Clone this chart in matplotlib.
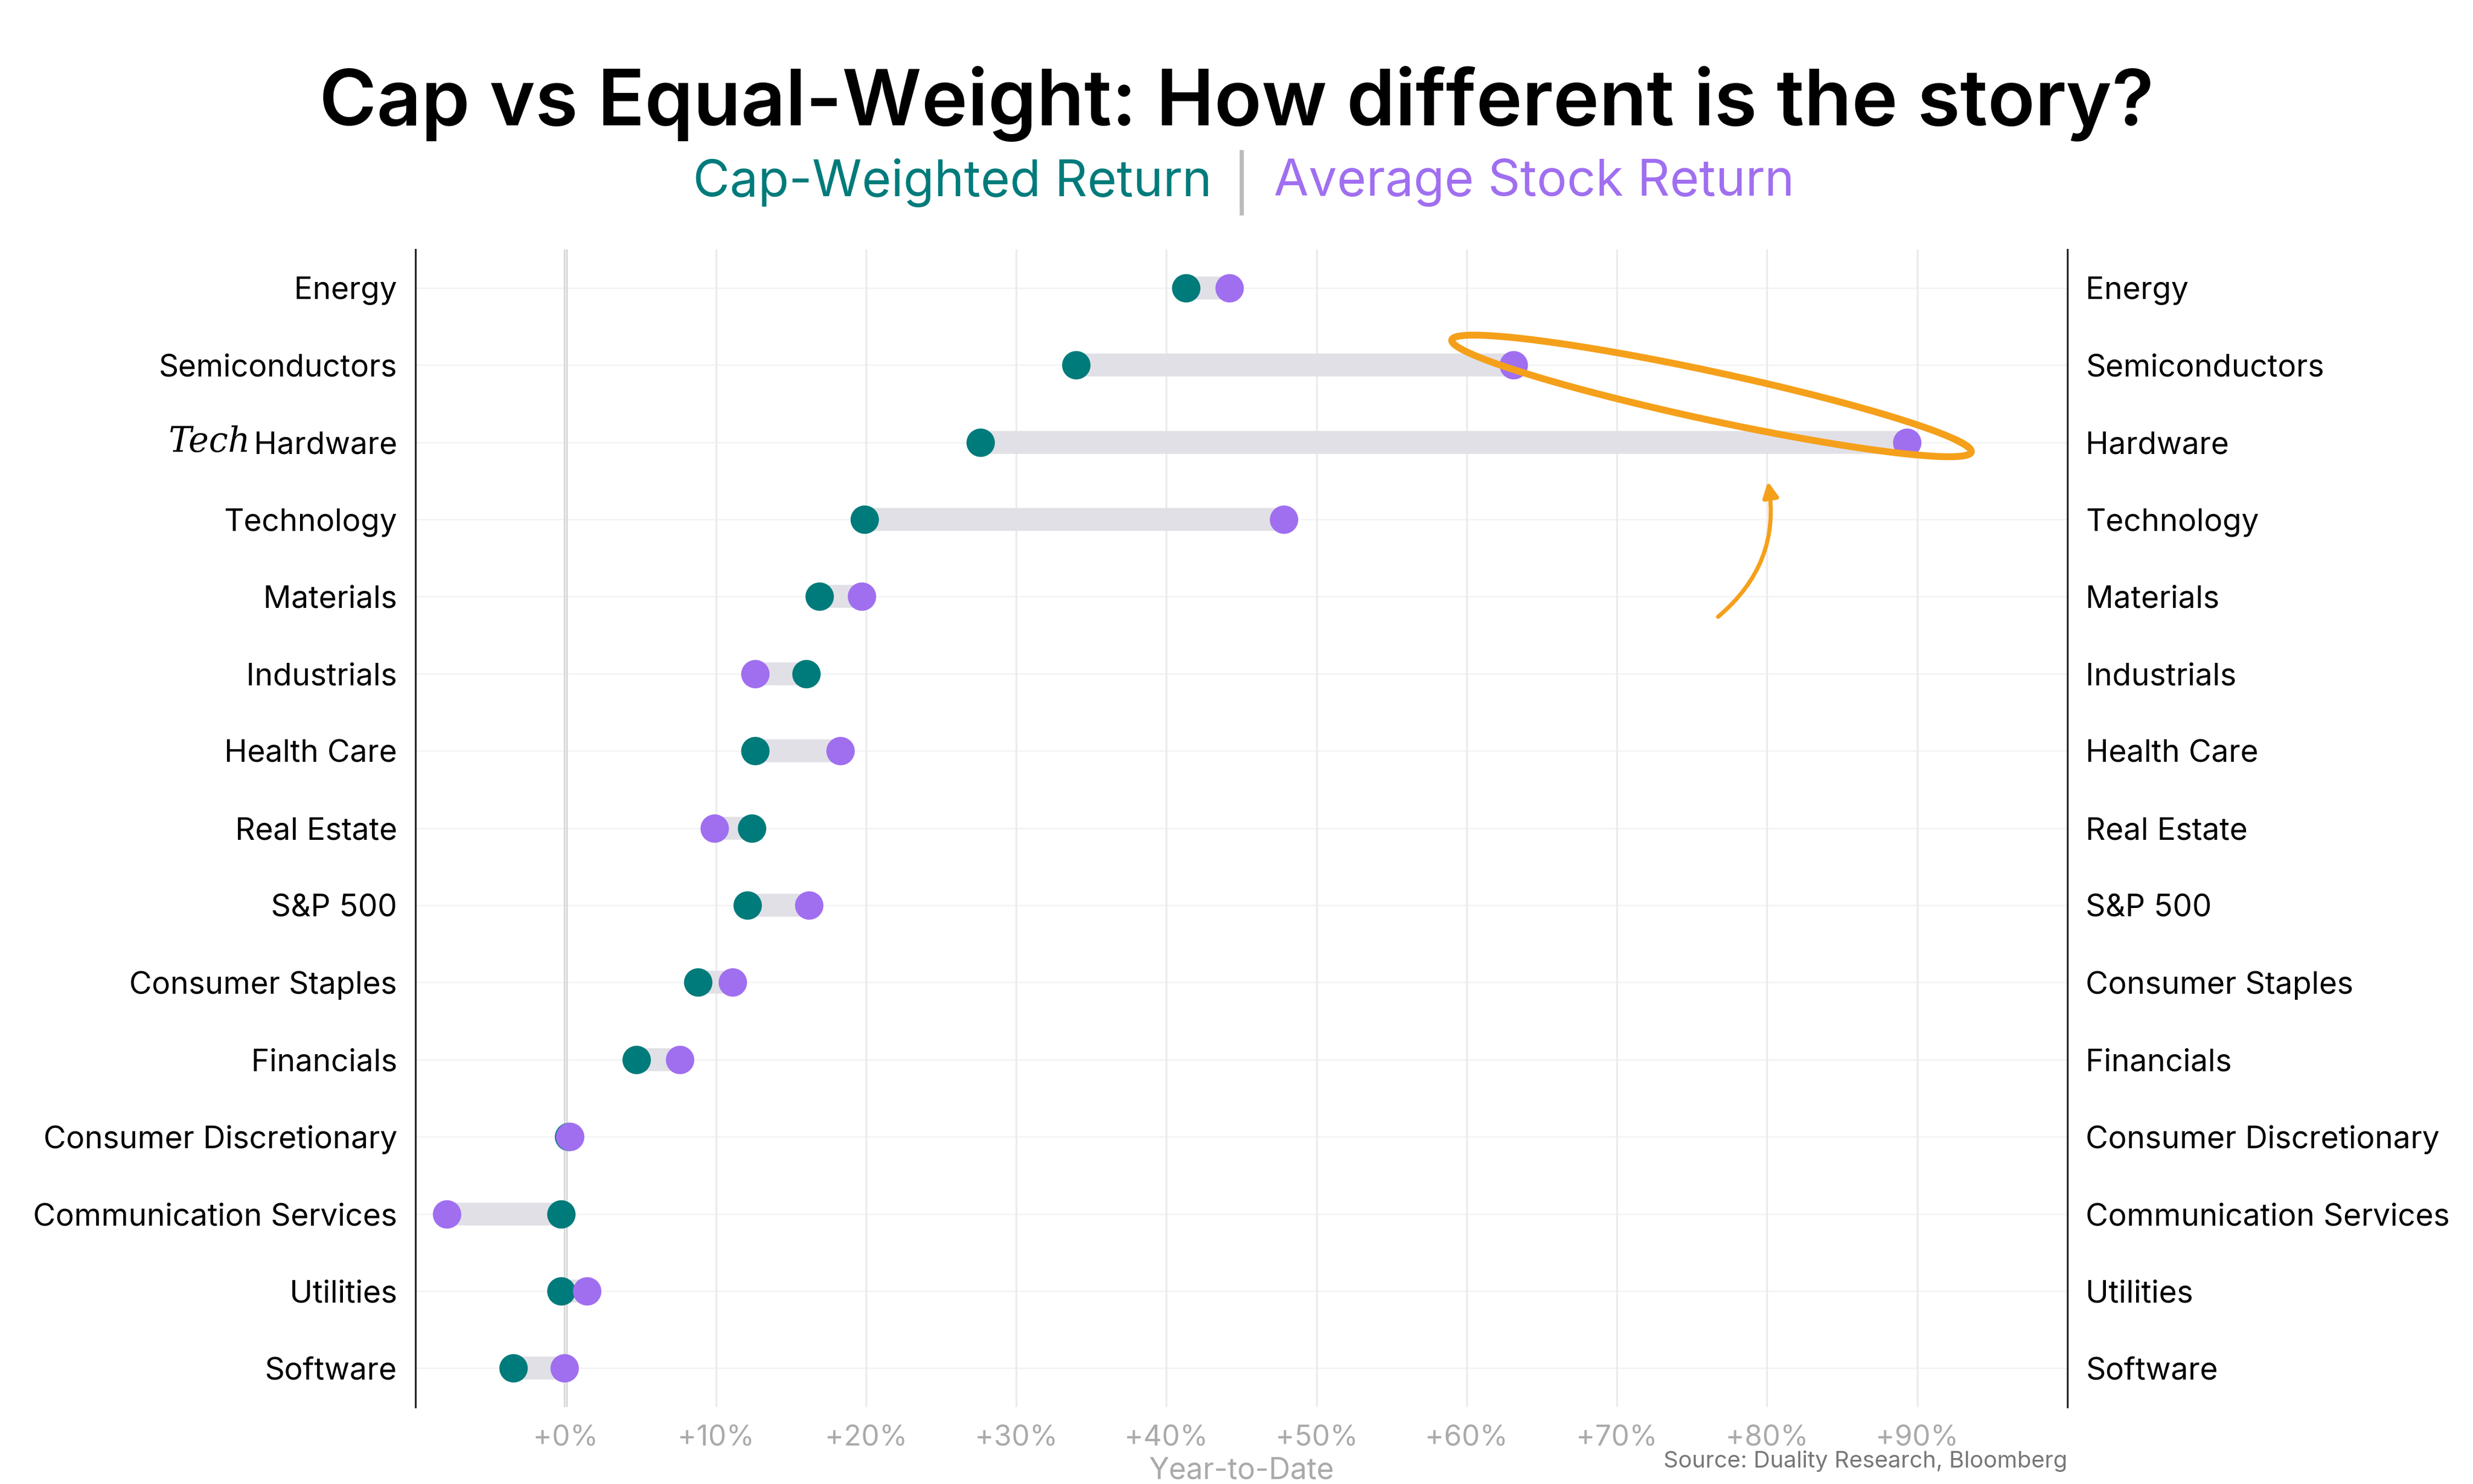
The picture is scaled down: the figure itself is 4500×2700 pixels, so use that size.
import matplotlib
matplotlib.use("Agg")
import matplotlib.pyplot as plt
import numpy as np

categories = ["Energy","Semiconductors","Hardware","Technology","Materials","Industrials",
              "Health Care","Real Estate","S&P 500","Consumer Staples","Financials",
              "Consumer Discretionary","Communication Services","Utilities","Software"]
cap_weighted = [41.3,34.0,27.6,19.9,16.9,16.0,12.6,12.4,12.1,8.8,4.7,0.2,-0.3,-0.3,-3.5]
avg_stock =    [44.2,63.1,89.3,47.8,19.7,12.6,18.3,9.9,16.2,11.1,7.6,0.3,-7.9,1.4,-0.1]
xticks = list(range(0,100,10))
xticklabels = [f"+{v}%" for v in xticks]

TEAL = "#007b7b"; PURPLE = "#a06ff0"; BAR = "#e1e0e6"; ORANGE = "#f5a01a"
plt.rcParams['font.family'] = ['Inter', 'DejaVu Sans']

fig = plt.figure(figsize=(15, 9), dpi=300)
ax = fig.add_axes([0.168, 0.052, 0.668, 0.78])
y = np.arange(len(categories))
for i in y:
    ax.plot([cap_weighted[i], avg_stock[i]], [i, i], color=BAR, lw=10, solid_capstyle='butt', zorder=2)
ax.scatter(cap_weighted, y, s=130, color=TEAL, zorder=4)
ax.scatter(avg_stock, y, s=130, color=PURPLE, zorder=4)
ax.set_xlim(-10, 100)
ax.set_ylim(len(categories)-0.5, -0.5)
ax.set_xticks(xticks)
ax.set_xticklabels(xticklabels, color="#aaaaaa", fontsize=12.5)
ax.set_yticks(y)
ax.set_yticklabels(categories, fontsize=13.5)
ax.tick_params(length=0, pad=8)
ax.grid(axis='x', color="#ebebeb", lw=0.8, zorder=0)
for i in y:
    ax.axhline(i, color="#f2f2f2", lw=0.6, zorder=0)
ax.axvline(0, color="#cccccc", lw=1.6, zorder=1)
for s in ["top","bottom"]:
    ax.spines[s].set_visible(False)
ax.spines["left"].set_color("#222222"); ax.spines["right"].set_color("#222222")
ax2 = ax.twinx()
ax2.set_ylim(ax.get_ylim())
ax2.set_yticks(y)
ax2.set_yticklabels(categories, fontsize=13.5)
ax2.tick_params(length=0, pad=8)
for s in ["top","bottom","left","right"]:
    ax2.spines[s].set_visible(False)
ax.set_xlabel("Year-to-Date", color="#aaaaaa", fontsize=13, labelpad=2)

# annotation ellipse
t = np.linspace(0.15, 2*np.pi+0.35, 300)
ex = 76.3 + 17.3*np.cos(t)
ey = 1.4 + 0.72*np.cos(t) - 0.32*np.sin(t)
ax.plot(ex, ey, color=ORANGE, lw=3.0, zorder=5, solid_capstyle='round')
ax.annotate("", xy=(80.0, 2.45), xytext=(76.5, 4.3),
            arrowprops=dict(arrowstyle="-|>", color=ORANGE, lw=1.8,
                            connectionstyle="arc3,rad=0.3", mutation_scale=14), zorder=5)
ax.text(-21.0, 2, "Tech", fontsize=15, fontstyle='italic', family=['DejaVu Serif'],
        ha='right', va='center', clip_on=False)

fig.text(0.5, 0.93, "Cap vs Equal-Weight: How different is the story?", ha='center', va='center',
         fontsize=34, fontweight='semibold')
fig.text(0.49, 0.877, "Cap-Weighted Return", color=TEAL, ha='right', va='center', fontsize=22)
fig.text(0.502, 0.877, "|", color="#bbbbbb", ha='center', va='center', fontsize=24)
fig.text(0.515, 0.877, "Average Stock Return", color=PURPLE, ha='left', va='center', fontsize=22)
fig.text(0.836, 0.008, "Source: Duality Research, Bloomberg", color="#777777", ha='right', va='bottom', fontsize=10)
fig.savefig("out.png", dpi=300)
